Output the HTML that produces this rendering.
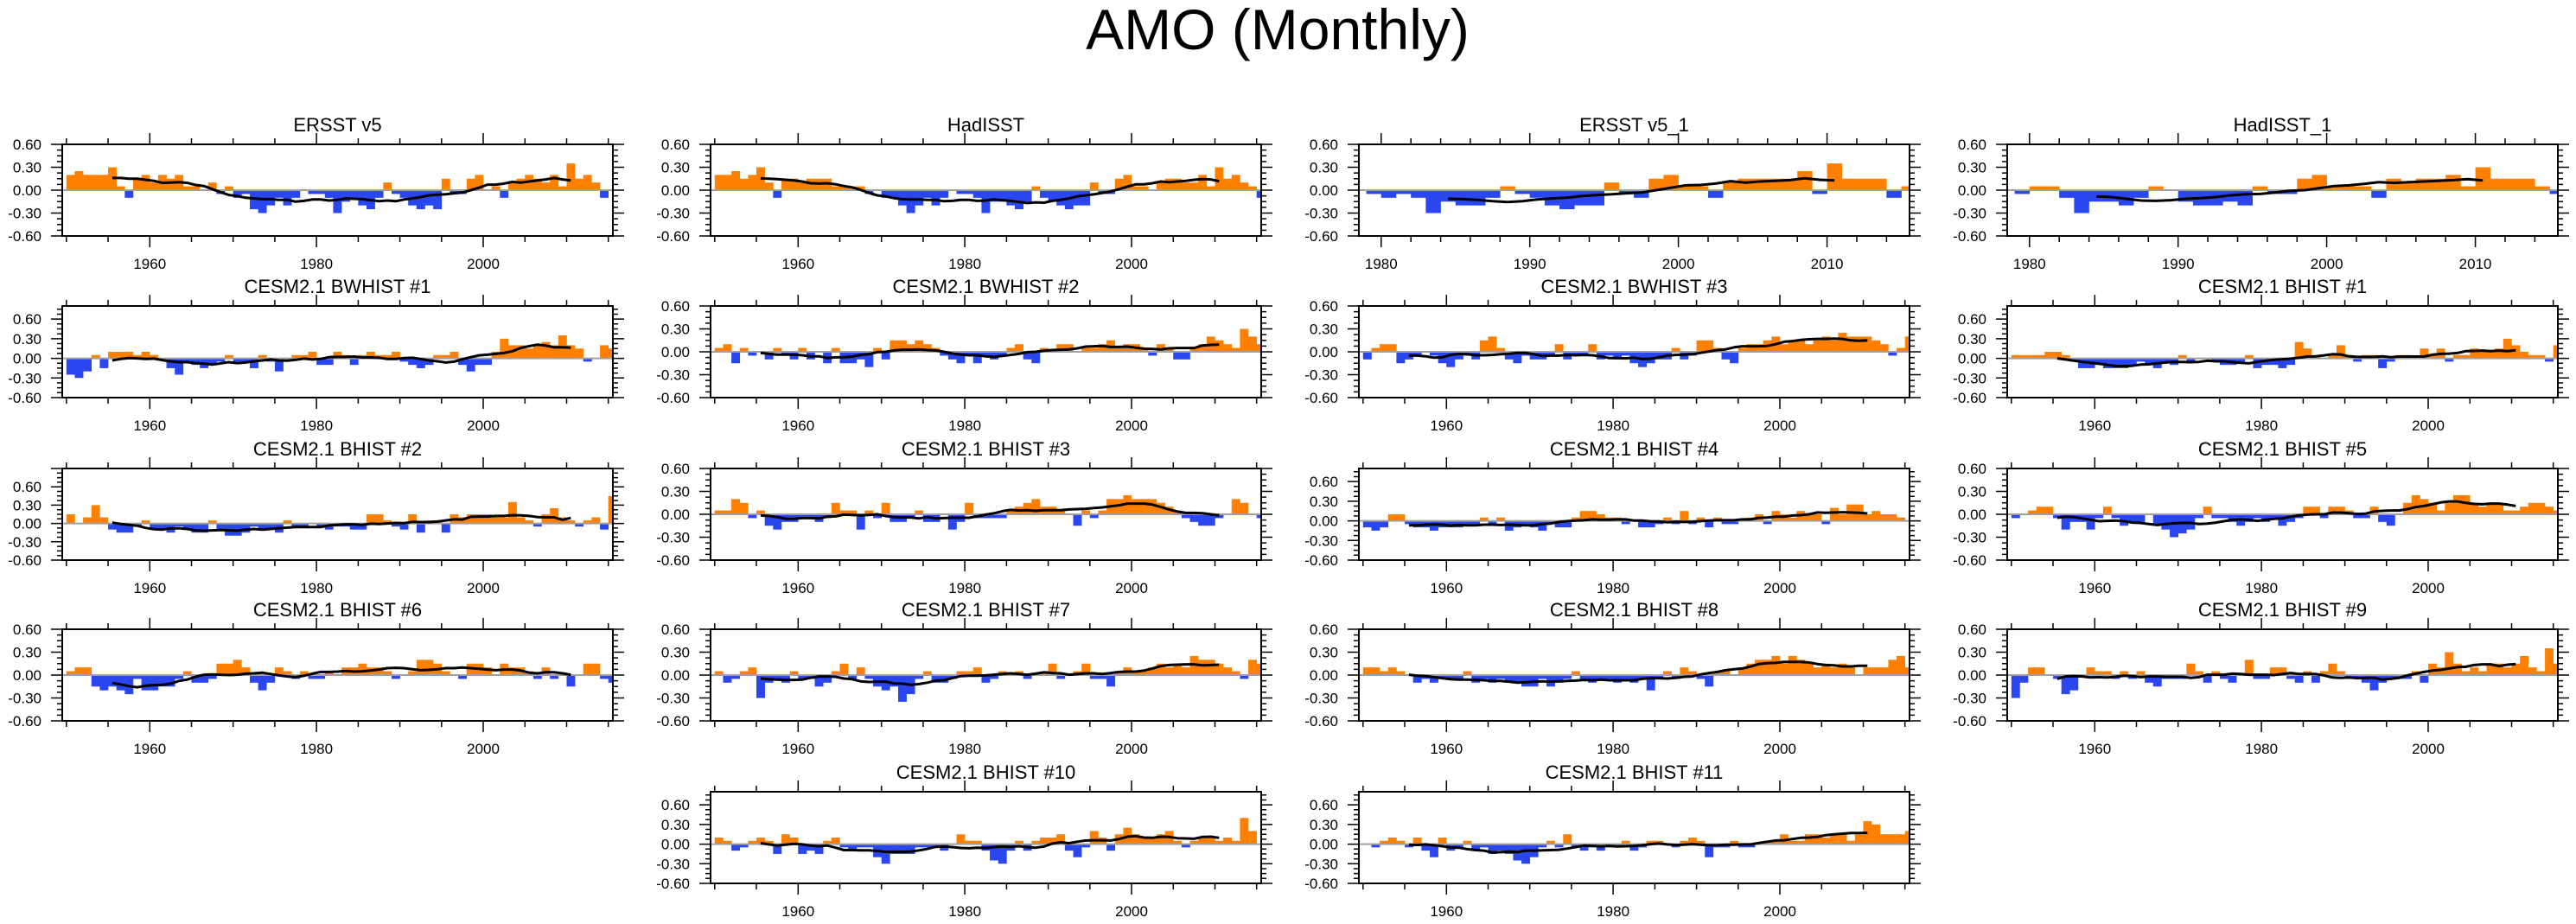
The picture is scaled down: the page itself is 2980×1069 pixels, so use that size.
<!DOCTYPE html>
<html><head><meta charset="utf-8"><title>AMO (Monthly)</title>
<style>
html,body{margin:0;padding:0;background:#fff;}
svg{display:block;font-family:"Liberation Sans",Arial,sans-serif;}
</style></head>
<body>
<svg id="fig" width="2980" height="1069" viewBox="0 0 2980 1069" xmlns="http://www.w3.org/2000/svg">
<defs id="defs"></defs>
<text x="1478" y="57" font-size="66" text-anchor="middle">AMO (Monthly)</text>
</svg>
<script>
// ---- data (annual-resolution values) ----
const titles = ["ERSST v5","HadISST","ERSST v5_1","HadISST_1",
"CESM2.1 BWHIST #1","CESM2.1 BWHIST #2","CESM2.1 BWHIST #3","CESM2.1 BHIST #1",
"CESM2.1 BHIST #2","CESM2.1 BHIST #3","CESM2.1 BHIST #4","CESM2.1 BHIST #5",
"CESM2.1 BHIST #6","CESM2.1 BHIST #7","CESM2.1 BHIST #8","CESM2.1 BHIST #9",
"CESM2.1 BHIST #10","CESM2.1 BHIST #11"];
const startYears = [1950,1950,1979,1979,1950,1950,1950,1950,1950,1950,1950,1950,1950,1950,1950,1950,1950,1950];
const yMaxes = [0.6,0.6,0.6,0.6,0.8,0.6,0.6,0.8,0.9,0.6,0.8,0.6,0.6,0.6,0.6,0.6,0.8,0.8];
const yTicks = [-0.6,-0.3,0,0.3,0.6];
const yTickLabels = ["-0.60","-0.30","0.00","0.30","0.60"];
const longXTicks = [1960,1980,2000];
const shortXTicks = [1980,1990,2000,2010];

const ersst = [0.2,0.25,0.2,0.2,0.2,0.3,0.05,-0.1,0.15,0.2,0.1,0.2,0.15,0.2,0.05,0.05,0.0,0.1,-0.05,0.05,-0.1,-0.05,-0.25,-0.3,-0.2,-0.1,-0.2,-0.1,0.0,-0.05,-0.05,-0.1,-0.3,-0.15,-0.1,-0.2,-0.25,-0.1,0.1,-0.05,-0.1,-0.2,-0.25,-0.2,-0.25,0.15,-0.05,-0.05,0.15,0.2,0.0,0.05,-0.1,0.1,0.15,0.2,0.15,0.1,0.2,0.05,0.35,0.15,0.2,0.1,-0.1,0.0];
const hadisst = [0.2,0.2,0.25,0.15,0.2,0.3,0.1,-0.1,0.15,0.15,0.1,0.15,0.15,0.15,0.05,0.05,0.05,0.05,-0.05,0.0,-0.1,-0.1,-0.2,-0.3,-0.2,-0.1,-0.2,-0.1,0.0,-0.05,-0.05,-0.1,-0.3,-0.15,-0.15,-0.2,-0.25,-0.15,0.05,-0.1,-0.15,-0.2,-0.25,-0.2,-0.2,0.1,-0.05,-0.05,0.15,0.2,0.05,0.05,0.0,0.1,0.15,0.15,0.1,0.1,0.2,0.05,0.3,0.15,0.2,0.1,0.05,-0.1];
const ersst1 = [-0.05,-0.1,-0.05,-0.1,-0.3,-0.15,-0.2,-0.2,-0.1,0.05,-0.05,-0.1,-0.2,-0.25,-0.2,-0.2,0.1,-0.05,-0.1,0.15,0.2,0.05,0.05,-0.1,0.1,0.15,0.15,0.15,0.15,0.25,-0.05,0.35,0.15,0.15,0.15,-0.1,0.05];
const hadisst1 = [-0.05,0.05,0.05,-0.1,-0.3,-0.15,-0.15,-0.2,-0.1,0.05,0.0,-0.15,-0.2,-0.2,-0.15,-0.2,0.05,-0.05,-0.05,0.15,0.2,0.05,0.05,0.05,-0.1,0.15,0.1,0.15,0.15,0.2,0.05,0.3,0.15,0.15,0.15,0.05,-0.05];
const bwhist1 = [-0.25,-0.3,-0.2,0.05,-0.15,0.1,0.1,0.1,0.05,0.1,0.05,0.0,-0.15,-0.25,-0.05,-0.1,-0.15,-0.1,-0.05,0.05,-0.05,-0.05,-0.15,0.05,-0.05,-0.2,0.0,0.05,0.05,0.1,-0.1,-0.1,0.1,0.05,-0.1,0.05,0.1,0.05,0.05,0.1,-0.05,-0.1,-0.15,-0.1,0.05,0.05,0.1,-0.1,-0.2,-0.1,-0.1,0.1,0.3,0.2,0.2,0.15,0.2,0.25,0.2,0.35,0.2,0.15,-0.05,0.0,0.2,0.15];
const bwhist2 = [0.05,0.1,-0.15,0.05,-0.05,0.0,-0.1,0.05,-0.05,-0.1,0.05,-0.1,0.0,-0.15,0.05,-0.15,-0.15,-0.1,-0.2,0.05,-0.1,0.15,0.15,0.1,0.15,0.1,0.05,-0.05,-0.1,-0.15,-0.05,-0.15,-0.05,-0.1,-0.05,0.05,0.1,-0.1,-0.15,0.05,0.0,0.1,0.1,0.0,0.05,0.05,0.1,0.15,0.05,0.1,0.1,0.05,-0.05,0.1,0.05,-0.1,-0.1,0.05,0.1,0.2,0.15,0.1,0.05,0.3,0.2,0.1];
const bwhist3 = [-0.1,0.05,0.1,0.1,-0.15,-0.1,-0.05,0.0,-0.05,-0.15,-0.2,-0.1,-0.05,-0.1,0.15,0.2,0.05,-0.1,-0.15,-0.05,-0.1,-0.1,-0.05,0.1,-0.1,-0.05,-0.05,0.1,-0.1,-0.05,-0.1,-0.05,-0.15,-0.2,-0.15,-0.1,-0.1,0.05,-0.1,-0.05,0.15,0.15,0.05,-0.1,-0.15,0.05,0.1,0.1,0.15,0.2,0.1,0.15,0.15,0.1,0.15,0.2,0.15,0.25,0.2,0.2,0.2,0.15,0.1,-0.05,0.05,0.2];
const bhist1 = [0.05,0.05,0.05,0.05,0.1,0.1,0.05,-0.05,-0.15,-0.15,-0.1,-0.15,-0.15,-0.15,-0.1,-0.05,-0.1,-0.15,-0.05,-0.1,0.05,-0.05,0.0,0.0,-0.05,-0.1,-0.1,-0.05,0.05,-0.15,-0.1,-0.1,-0.15,-0.1,0.25,0.15,0.05,0.0,0.05,0.2,0.05,-0.05,0.05,0.05,-0.15,-0.05,0.05,0.05,0.0,0.15,0.05,0.15,-0.05,0.05,0.05,0.15,0.1,0.1,0.15,0.3,0.2,0.1,0.05,0.05,-0.05,0.2];
const bhist2 = [0.15,0.0,0.1,0.3,0.1,-0.1,-0.15,-0.15,-0.05,0.05,-0.1,-0.1,-0.15,-0.05,-0.1,-0.15,-0.15,0.05,-0.1,-0.2,-0.2,-0.15,-0.05,-0.1,-0.1,-0.15,0.05,-0.05,-0.05,0.0,-0.05,-0.1,-0.05,-0.05,-0.1,-0.1,0.15,0.15,0.05,-0.05,-0.1,0.15,-0.15,0.05,0.05,-0.15,0.15,0.1,0.15,0.15,0.15,0.1,0.1,0.35,0.1,0.05,-0.05,0.15,0.25,0.1,0.05,-0.05,0.05,0.1,-0.1,0.45];
const bhist3 = [0.05,0.05,0.2,0.15,-0.05,0.05,-0.15,-0.2,-0.1,-0.1,-0.05,-0.05,-0.1,-0.05,0.15,0.05,0.05,-0.2,0.05,-0.05,0.15,-0.1,-0.1,-0.05,0.05,-0.1,-0.1,0.0,-0.2,-0.1,0.15,-0.05,-0.05,-0.05,-0.05,0.05,0.1,0.15,0.2,0.1,0.1,0.05,0.0,-0.15,0.05,-0.05,0.05,0.2,0.2,0.25,0.2,0.2,0.2,0.15,0.1,0.05,-0.05,-0.1,-0.15,-0.15,-0.05,0.0,0.2,0.15,0.0,-0.05];
const bhist4 = [-0.1,-0.15,-0.1,0.1,0.1,-0.05,-0.1,-0.1,-0.15,-0.1,-0.1,-0.1,-0.05,-0.05,0.05,-0.05,0.05,-0.15,-0.1,-0.05,-0.1,-0.15,-0.05,-0.1,-0.1,0.05,0.15,0.15,0.1,0.05,0.05,-0.05,0.0,-0.1,-0.1,-0.05,0.05,-0.05,0.15,-0.05,0.05,-0.1,0.05,-0.05,-0.05,0.0,0.05,0.1,-0.05,0.15,0.1,0.05,0.15,0.1,0.1,-0.05,0.2,0.1,0.25,0.25,0.1,0.15,0.1,0.1,0.05,0.0];
const bhist5 = [-0.05,0.0,0.05,0.1,0.1,-0.05,-0.2,-0.1,-0.1,-0.2,-0.05,0.1,-0.05,-0.15,-0.1,-0.1,0.0,-0.15,-0.2,-0.3,-0.25,-0.2,-0.05,0.1,-0.05,-0.05,-0.1,-0.15,-0.1,-0.05,-0.1,-0.05,-0.15,-0.1,-0.05,0.1,0.1,-0.05,0.1,0.1,0.05,-0.05,-0.05,0.1,-0.1,-0.15,0.0,0.15,0.25,0.2,0.15,0.05,0.15,0.25,0.25,0.15,0.1,0.15,0.15,0.05,0.05,0.1,0.15,0.15,0.1,0.05];
const bhist6 = [0.05,0.1,0.1,-0.15,-0.2,-0.15,-0.2,-0.25,-0.05,-0.2,-0.2,-0.15,-0.15,-0.05,0.05,-0.1,-0.1,-0.05,0.15,0.15,0.2,0.1,-0.1,-0.2,-0.1,0.1,0.05,-0.05,0.05,-0.05,-0.05,0.05,0.0,0.1,0.1,0.15,0.1,0.1,0.05,-0.05,0.0,0.05,0.2,0.2,0.15,0.05,0.0,-0.05,0.15,0.15,0.1,0.0,0.15,0.1,0.1,0.05,-0.05,0.1,-0.05,0.0,-0.15,0.0,0.15,0.15,-0.05,-0.1];
const bhist7 = [0.05,-0.1,-0.05,0.05,0.1,-0.3,-0.1,-0.05,-0.1,0.05,-0.05,-0.05,-0.15,-0.1,0.05,0.15,-0.05,0.1,-0.05,-0.15,-0.2,-0.15,-0.35,-0.25,-0.05,0.05,-0.1,-0.1,-0.05,0.05,0.05,0.1,-0.1,-0.05,0.05,0.0,0.05,-0.05,0.0,0.05,0.15,-0.05,0.0,0.05,0.15,-0.05,-0.05,-0.15,0.05,0.1,0.05,0.05,0.1,0.15,0.1,0.15,0.1,0.25,0.2,0.2,0.15,0.1,0.05,-0.05,0.2,0.15];
const bhist8 = [0.1,0.1,0.05,0.1,0.05,0.0,-0.1,-0.05,-0.1,-0.05,-0.05,-0.05,0.05,-0.1,-0.05,-0.1,-0.05,-0.1,-0.1,-0.15,-0.15,-0.05,-0.15,-0.1,-0.05,0.05,-0.05,-0.1,-0.05,-0.05,-0.1,-0.05,-0.1,-0.05,-0.2,-0.05,0.05,-0.05,0.1,0.05,-0.05,-0.15,0.05,0.05,0.0,0.1,0.15,0.2,0.2,0.25,0.15,0.25,0.2,0.15,0.1,0.15,0.1,0.15,0.1,0.0,0.1,0.1,0.1,0.2,0.25,0.1];
const bhist9 = [-0.3,-0.1,0.1,0.1,0.0,-0.05,-0.25,-0.2,0.0,0.1,0.05,0.05,-0.05,0.05,-0.05,0.05,-0.1,-0.15,-0.05,-0.05,-0.05,0.15,0.05,-0.1,0.05,-0.05,-0.1,0.0,0.2,-0.05,-0.05,0.1,0.1,-0.05,-0.1,0.05,-0.1,0.05,0.15,0.05,-0.05,-0.05,-0.1,-0.2,-0.1,-0.05,-0.05,-0.05,0.05,-0.1,0.15,0.1,0.3,0.15,0.05,0.1,0.05,0.15,0.15,0.1,0.15,0.25,0.1,0.05,0.35,0.15];
const bhist10 = [0.1,0.05,-0.1,-0.05,0.05,0.1,0.05,-0.15,0.15,0.1,-0.15,-0.1,-0.15,0.05,0.1,-0.05,-0.1,-0.05,-0.05,-0.2,-0.3,-0.15,-0.15,-0.15,-0.05,-0.05,-0.05,-0.1,0.0,0.15,0.05,0.05,-0.1,-0.25,-0.3,-0.1,0.05,-0.1,0.05,0.1,0.1,0.15,-0.1,-0.2,-0.05,0.2,0.1,-0.1,0.15,0.25,0.15,0.1,0.1,0.15,0.2,0.05,-0.05,0.05,0.1,0.1,0.05,0.1,0.05,0.4,0.2,0.0];
const bhist11 = [0.0,-0.05,0.05,0.1,0.05,-0.05,0.1,-0.1,-0.2,0.1,-0.1,-0.05,0.05,-0.1,-0.05,-0.15,-0.1,-0.15,-0.25,-0.3,-0.2,-0.05,0.05,-0.05,0.15,-0.05,-0.1,-0.05,-0.1,-0.05,-0.05,0.05,-0.1,-0.05,0.05,0.05,0.0,-0.05,0.05,0.1,0.05,-0.2,-0.05,-0.05,0.05,-0.05,-0.05,0.0,0.05,0.05,0.15,0.05,0.05,0.15,0.15,0.1,0.15,0.15,0.05,0.15,0.35,0.3,0.15,0.15,0.15,0.2];

const seriesList = [ersst,hadisst,ersst1,hadisst1,bwhist1,bwhist2,bwhist3,bhist1,bhist2,bhist3,bhist4,bhist5,bhist6,bhist7,bhist8,bhist9,bhist10,bhist11];

// ---- layout ----
const NS = "http://www.w3.org/2000/svg";
const svg = document.getElementById("fig");
const defs = document.getElementById("defs");
const colLeft = [72,822,1572,2322];
const rowTop = [167,354,542,728,916];
const W = 637, H = 106;
const cells = [[0,0],[0,1],[0,2],[0,3],[1,0],[1,1],[1,2],[1,3],[2,0],[2,1],[2,2],[2,3],[3,0],[3,1],[3,2],[3,3],[4,1],[4,2]];
const ORANGE = "#ff8000", BLUE = "#2a46ee";

function mk(tag, attrs, parent){
  const e = document.createElementNS(NS, tag);
  for (const k in attrs) e.setAttribute(k, attrs[k]);
  parent.appendChild(e);
  return e;
}
function slug(s){ return s.toLowerCase().replace(/[^a-z0-9]+/g,'-').replace(/^-|-$/g,''); }

seriesList.forEach((vals, p) => {
  const [r, c] = cells[p];
  const x0 = colLeft[c], y0 = rowTop[r];
  const short = startYears[p] > 1960;
  const xmin = short ? 1978.5 : 1949.5, xmax = 2015.55;
  const ymin = -0.6, ymax = yMaxes[p];
  const xs = t => x0 + (t - xmin) / (xmax - xmin) * W;
  const ys = v => y0 + H - (v - ymin) / (ymax - ymin) * H;
  const name = slug(titles[p]);

  const cp = mk("clipPath", {id: "clip" + p}, defs);
  mk("rect", {x: x0, y: y0, width: W, height: H}, cp);

  const g = mk("g", {}, svg);
  
  

  const tt = mk("text", {x: x0 + W/2, y: y0 - 15, "font-size": 22, "text-anchor": "middle"}, g);
  tt.textContent = titles[p];
  
  

  const bars = mk("g", {"clip-path": "url(#clip" + p + ")"}, g);
  
  
  vals.forEach((v, i) => {
    const yr = startYears[p] + i;
    const xa = xs(yr), xb = xs(yr + 1);
    const ya = ys(Math.max(v, 0)), yb = ys(Math.min(v, 0));
    const rc = mk("rect", {x: xa.toFixed(2), y: ya.toFixed(2), width: (xb - xa + 0.3).toFixed(2), height: Math.max(0, yb - ya).toFixed(2), fill: v >= 0 ? ORANGE : BLUE}, bars);
    
    
  });

  const zl = mk("line", {x1: x0, x2: x0 + W, y1: ys(0), y2: ys(0), stroke: "#a0a0a0", "stroke-width": 2}, g);
  
  

  let pts = [];
  for (let i = 5; i < vals.length - 5; i++) {
    let s = 0; for (let k = -5; k <= 5; k++) s += vals[i + k];
    pts.push(xs(startYears[p] + i + 0.5).toFixed(1) + "," + ys(s / 11).toFixed(1));
  }
  const pl = mk("polyline", {points: pts.join(" "), fill: "none", stroke: "#000", "stroke-width": 3, "stroke-linejoin": "round"}, g);
  
  

  const fr = mk("rect", {x: x0, y: y0, width: W, height: H, fill: "none", stroke: "#000", "stroke-width": 2}, g);
  
  

  let d = "";
  for (let v = -0.6; v <= ymax + 1e-6; v += 0.075) {
    const major = Math.abs(Math.round(v / 0.3) * 0.3 - v) < 1e-6;
    const L = major ? 13 : 6, y = ys(v).toFixed(1);
    d += `M${x0},${y}h${-L}M${x0 + W},${y}h${L}`;
  }
  const step = short ? 2 : 5;
  for (let t = short ? 1980 : 1950; t <= 2015; t += step) {
    const major = short ? t % 10 === 0 : (t - 1960) % 20 === 0;
    const L = major ? 13 : 7, x = xs(t).toFixed(1);
    d += `M${x},${y0}v${-L}M${x},${y0 + H}v${L}`;
  }
  const tk = mk("path", {d: d, stroke: "#000", "stroke-width": 1.5, fill: "none"}, g);
  
  

  yTicks.forEach((v, i) => {
    const t = mk("text", {x: x0 - 24, y: ys(v) + 6, "font-size": 17, "text-anchor": "end"}, g);
    t.textContent = yTickLabels[i];
    
    
  });
  (short ? shortXTicks : longXTicks).forEach(t => {
    const lb = mk("text", {x: xs(t), y: y0 + H + 38, "font-size": 17, "text-anchor": "middle"}, g);
    lb.textContent = String(t);
    
    
  });
});
</script>
</body></html>
